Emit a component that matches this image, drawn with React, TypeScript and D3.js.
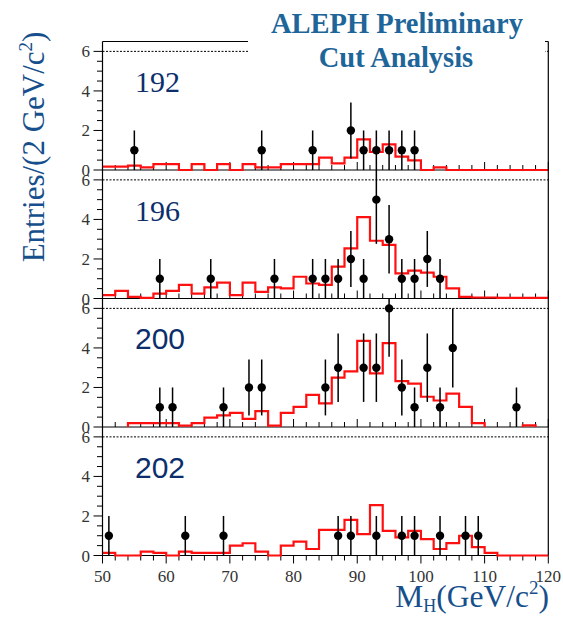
import React from "react";
import * as d3 from "d3";

// ---------- data ----------
const binStart = 50;
const binWidth = 2;
const xTickLabels = [50, 60, 70, 80, 90, 100, 110, 120];
const yTickLabels = [0, 2, 4, 6];
const energies = ["192", "196", "200", "202"];

// expected (red histogram), one value per 2 GeV bin from 50 to 120
const hist192 = [0.17, 0.17, 0.22, 0.13, 0.3, 0.3, 0, 0.3, 0, 0.3, 0, 0.3, 0.13, 0.13, 0.3, 0.3, 0.3, 0.63, 0.34, 0.63, 1.55, 0.91, 1.3, 0.68, 0.49, 0, 0.13, 0, 0, 0, 0, 0, 0, 0, 0];
const hist196 = [0.17, 0.39, 0.08, 0.03, 0.25, 0.39, 0.69, 0.25, 0.56, 0.8, 0.17, 0.8, 0.34, 0.56, 0.51, 1.1, 0.76, 0.69, 1.61, 2.54, 4.12, 2.92, 2.71, 1.27, 1.41, 1.31, 1.1, 0.51, 0.08, 0.05, 0.05, 0.03, 0.03, 0.03, 0.03];
const hist200 = [0, 0, 0.2, 0.2, 0.2, 0.2, 0.07, 0.2, 0.47, 0.59, 0.71, 0.41, 0.8, 0.07, 0.71, 1.02, 1.63, 1.19, 2.5, 2.81, 4.36, 2.71, 4.24, 2.32, 2.19, 1.53, 1.34, 1.69, 1.02, 0.2, 0, 0, 0, 0.08, 0];
const hist202 = [0.13, 0, 0, 0.2, 0.13, 0, 0.2, 0.13, 0.13, 0.13, 0.5, 0.62, 0.2, 0, 0.5, 0.7, 0.33, 1.3, 1.3, 1.8, 1.08, 2.55, 1.25, 0.92, 1.25, 0.83, 0.33, 0.63, 1.0, 0.42, 0.13, 0, 0, 0, 0];

// observed candidates (mass, entries)
const pts192X = [55, 75, 83, 89, 91, 93, 95, 97, 99];
const pts192N = [1, 1, 1, 2, 1, 1, 1, 1, 1];
const pts196X = [59, 67, 77, 83, 85, 87, 89, 91, 93, 95, 97, 99, 101, 103];
const pts196N = [1, 1, 1, 1, 1, 1, 2, 1, 5, 3, 1, 1, 2, 1];
const pts200X = [59, 61, 69, 73, 75, 85, 87, 91, 93, 95, 97, 99, 101, 103, 105, 115];
const pts200N = [1, 1, 1, 2, 2, 2, 3, 3, 3, 6, 2, 1, 3, 1, 4, 1];
const pts202X = [51, 63, 69, 87, 89, 93, 97, 99, 103, 107, 109];
const pts202N = [1, 1, 1, 1, 1, 1, 1, 1, 1, 1, 1];

const W = 563;
const H = 617;
const serif = "'Liberation Serif', 'Times New Roman', serif";
const sans = "'Liberation Sans', Arial, sans-serif";
const labelBlue = "#164f8c";
const navy = "#0c2f6c";
const titleBlue = "#1e6599";
const tickGrey = "#333";

const panels = [
  { label: energies[0], hist: hist192, px: pts192X, pn: pts192N, font: serif, drawZero: true },
  { label: energies[1], hist: hist196, px: pts196X, pn: pts196N, font: serif, drawZero: true },
  { label: energies[2], hist: hist200, px: pts200X, pn: pts200N, font: sans, drawZero: false },
  { label: energies[3], hist: hist202, px: pts202X, pn: pts202N, font: sans, drawZero: true },
];

const PANEL_TOP = 41.5;
const PANEL_H = 128.5;
const YMAX = 6.5;

const x = d3.scaleLinear().domain([50, 120]).range([102.5, 548.3]);

function histPath(hist: number[], y: d3.ScaleLinear<number, number>, drawZero: boolean) {
  let d = "";
  if (drawZero) {
    hist.forEach((v, i) => {
      const x0 = x(binStart + i * binWidth);
      const x1 = x(binStart + (i + 1) * binWidth);
      d += (i === 0 ? `M${x0},${y(v)}` : `V${y(v)}`) + `H${x1}`;
    });
    return d;
  }
  let open = false;
  hist.forEach((v, i) => {
    const x0 = x(binStart + i * binWidth);
    const x1 = x(binStart + (i + 1) * binWidth);
    if (v > 0) {
      if (!open) {
        d += `M${x0},${y(0)}`;
        open = true;
      }
      d += `V${y(v)}H${x1}`;
    } else if (open) {
      d += `V${y(0)}`;
      open = false;
    }
  });
  if (open) d += `V${y(0)}`;
  return d;
}

export default function App() {
  const minorX = d3.range(50, 120.001, 2);
  const yTicks = d3.range(0, 6.001, 0.5);
  const bottomZero = PANEL_TOP + 4 * PANEL_H;

  return (
    <svg
      width={W}
      height={H}
      viewBox={`0 0 ${W} ${H}`}
      style={{ position: "absolute", left: 0, top: 0, background: "#fff" }}
    >
      <rect x={0} y={0} width={W} height={H} fill="#fff" />
      {panels.map((p, pi) => {
        const top = PANEL_TOP + pi * PANEL_H;
        const y = d3.scaleLinear().domain([0, YMAX]).range([top + PANEL_H, top]);
        const isBottom = pi === panels.length - 1;
        return (
          <g key={p.label}>
            {/* dashed line at 6 */}
            <line x1={x(50)} x2={x(120)} y1={y(6)} y2={y(6)} stroke="#000" strokeWidth={1} strokeDasharray="2,1.5" />
            {/* zero axis */}
            <line x1={x(50)} x2={x(120)} y1={y(0)} y2={y(0)} stroke="#000" strokeWidth={1.2} />
            {minorX.map((v) => {
              const major = Math.abs(v % 10) < 1e-6;
              const len = major ? 8 : 5;
              const y0 = y(0);
              return (
                <line
                  key={v}
                  x1={x(v)}
                  x2={x(v)}
                  y1={y0}
                  y2={isBottom ? y0 + len : y0 - len}
                  stroke="#000"
                  strokeWidth={1}
                />
              );
            })}
            {/* y ticks */}
            {yTicks.map((v) => {
              const major = Math.abs(v % 2) < 1e-6;
              return (
                <line key={v} x1={x(50) - (major ? 9 : 5.5)} x2={x(50)} y1={y(v)} y2={y(v)} stroke="#000" strokeWidth={1} />
              );
            })}
            {yTickLabels.map((v) => (
              <text key={v} x={90} y={y(v) + 6} textAnchor="end" fontFamily={serif} fontSize={17} fill={tickGrey}>
                {v}
              </text>
            ))}
            {/* expected histogram */}
            <path d={histPath(p.hist, y, p.drawZero)} fill="none" stroke="#ff1010" strokeWidth={2.2} />
            {/* data points */}
            {p.px.map((m, i) => {
              const n = p.pn[i];
              const e = Math.sqrt(n);
              return (
                <g key={i}>
                  <line x1={x(m)} x2={x(m)} y1={y(Math.max(0, n - e))} y2={y(Math.min(YMAX, n + e))} stroke="#000" strokeWidth={1.5} />
                  <circle cx={x(m)} cy={y(n)} r={4.2} fill="#000" />
                </g>
              );
            })}
            <text x={135} y={top + 50.5} fontFamily={p.font} fontSize={30} fill={navy}>
              {p.label}
            </text>
          </g>
        );
      })}
      {/* frame */}
      <line x1={x(50)} x2={x(50)} y1={PANEL_TOP} y2={bottomZero} stroke="#000" strokeWidth={1.2} />
      <line x1={x(120)} x2={x(120)} y1={PANEL_TOP} y2={bottomZero} stroke="#000" strokeWidth={1.2} />
      <line x1={x(50)} x2={x(120)} y1={PANEL_TOP} y2={PANEL_TOP} stroke="#000" strokeWidth={1.2} />
      {/* x tick labels */}
      {xTickLabels.map((v) => (
        <text key={v} x={x(v)} y={582} textAnchor="middle" fontFamily={serif} fontSize={17} fill={tickGrey}>
          {v}
        </text>
      ))}
      {/* title box */}
      <rect x={248} y={0} width={297} height={74} fill="#fff" />
      <text x={397} y={33} textAnchor="middle" fontFamily={serif} fontWeight="bold" fontSize={28.5} fill={titleBlue}>
        ALEPH Preliminary
      </text>
      <text x={396} y={67} textAnchor="middle" fontFamily={serif} fontWeight="bold" fontSize={28.5} fill={titleBlue}>
        Cut Analysis
      </text>
      {/* axis titles */}
      <text
        transform="translate(44,147) rotate(-90)"
        textAnchor="middle"
        fontFamily={serif}
        fontSize={31}
        fill={labelBlue}
      >
        Entries/(2 GeV/c
        <tspan fontSize={19} dy={-12}>2</tspan>
        <tspan dy={12}>)</tspan>
      </text>
      <text x={549} y={607} textAnchor="end" fontFamily={serif} fontSize={31.5} fill={labelBlue}>
        M
        <tspan fontSize={18} dy={5}>H</tspan>
        <tspan dy={-5}>(GeV/c</tspan>
        <tspan fontSize={19} dy={-13}>2</tspan>
        <tspan dy={13}>)</tspan>
      </text>
    </svg>
  );
}
